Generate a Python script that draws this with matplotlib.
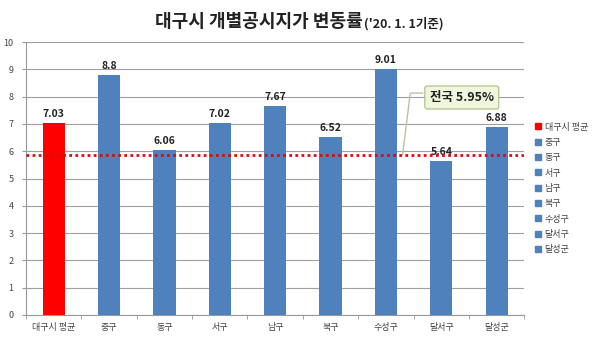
import matplotlib.pyplot as plt
from matplotlib.lines import Line2D

plt.rcParams['font.family'] = ['Noto Sans CJK KR', 'DejaVu Sans']

# data
districts = ['대구시 평균', '중구', '동구', '서구', '남구', '북구', '수성구', '달서구', '달성군']
rates = [7.03, 8.8, 6.06, 7.02, 7.67, 6.52, 9.01, 5.64, 6.88]
rate_labels = ['7.03', '8.8', '6.06', '7.02', '7.67', '6.52', '9.01', '5.64', '6.88']
national_rate = 5.95
national_line = 5.87   # where the dotted line sits in the picture
yticks = list(range(0, 11))

blue = '#4f81bd'
red = '#ff0000'
colors = [red] + [blue] * (len(districts) - 1)

fig = plt.figure(figsize=(5.99, 3.42), dpi=100)
ax = fig.add_axes([0.0434, 0.079, 0.832, 0.798])

x = list(range(len(districts)))
ax.bar(x, rates, width=0.4, color=colors, zorder=3)
for xi, v, lab in zip(x, rates, rate_labels):
    ax.text(xi, v + 0.15, lab, ha='center', va='bottom', fontsize=7.5,
            fontweight='bold', color='#222222', zorder=4)

ax.axhline(national_line, color='#d01010', linestyle=(0, (1, 1.2)),
           linewidth=2, zorder=5)

ax.set_xlim(-0.5, len(districts) - 0.5)
ax.set_ylim(0, 10)
ax.set_yticks(yticks)
ax.set_xticks(x)
ax.set_xticklabels(districts)
ax.set_xticks([i + 0.5 for i in range(-1, len(districts))], minor=True)
ax.tick_params(axis='x', which='major', length=0, labelsize=6.5,
               colors='#444444', pad=6)
ax.tick_params(axis='x', which='minor', length=3, color='#999999')
ax.tick_params(axis='y', length=3, color='#999999', labelsize=6.5,
               labelcolor='#444444', pad=6)
ax.yaxis.grid(True, color='#a0a0a0', linewidth=0.8, zorder=0)
for side in ['top', 'right']:
    ax.spines[side].set_visible(False)
for side in ['left', 'bottom']:
    ax.spines[side].set_color('#999999')

# annotation box with leader line
ax.plot([6.30, 6.44, 6.66], [national_line, 8.13, 8.13], color='#b8c4a0',
        linewidth=1, zorder=4)
ax.text(7.37, 7.97, f'전국 {national_rate:.2f}%', ha='center', va='center',
        fontsize=9, fontweight='bold', color='#222222', zorder=6,
        bbox=dict(boxstyle='round,pad=0.4,rounding_size=0.2',
                  facecolor='#eef6dc', edgecolor='#a8bc80', linewidth=0.8))

# legend
handles = [Line2D([], [], marker='s', linestyle='none', markersize=4,
                  color=c) for c in colors]
fig.legend(handles, districts, loc='upper left', bbox_to_anchor=(0.885, 0.652),
           frameon=False, fontsize=6.5, handletextpad=0.2, labelspacing=0.7,
           handlelength=1.0, borderaxespad=0, labelcolor='#444444')

# title
fig.text(0.606, 0.936, '대구시 개별공시지가 변동률', ha='right', va='center',
         fontsize=13, fontweight='bold', color='#222222')
fig.text(0.608, 0.930, "('20. 1. 1기준)", ha='left', va='center',
         fontsize=9, fontweight='bold', color='#222222')

fig.savefig('out.png', dpi=100)
